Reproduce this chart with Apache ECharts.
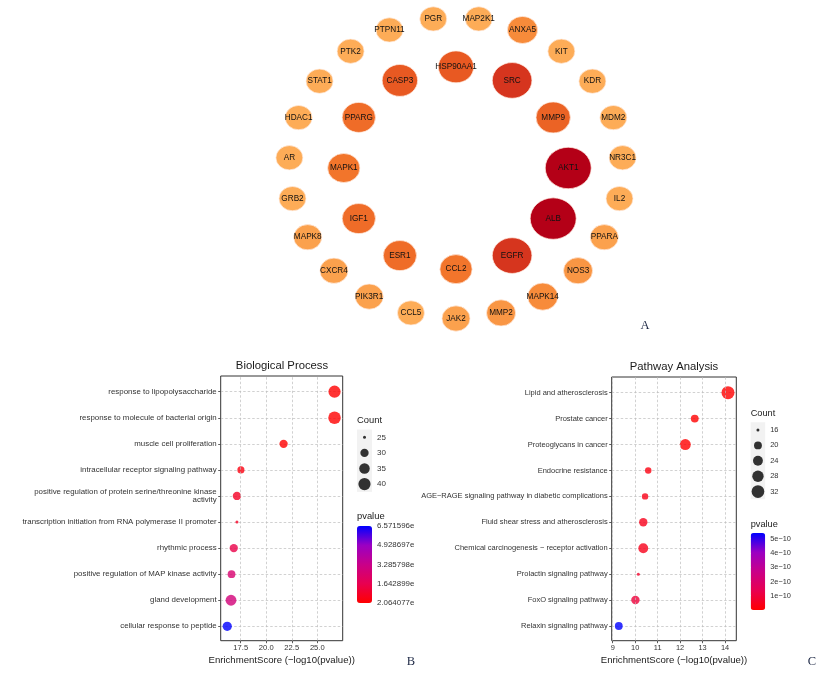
<!DOCTYPE html>
<html><head><meta charset="utf-8">
<script src="https://cdn.jsdelivr.net/npm/echarts@6/dist/echarts.min.js"></script>
<style>html,body{margin:0;padding:0;background:#fff}#c{width:827px;height:675px}</style>
</head><body><div id="c"></div>
<script>
// ---------- Panel A: PPI network ----------
const outerNodes = ['PGR','PTPN11','PTK2','STAT1','HDAC1','AR','GRB2','MAPK8','CXCR4','PIK3R1','CCL5','JAK2','MMP2','MAPK14','NOS3','PPARA','IL2','NR3C1','MDM2','KDR','KIT','ANXA5','MAP2K1'];
const outerDegree = [8,8,8,8,8,8,8,9,9,9,8,9,10,11,10,9,8,8,8,8,8,11,8];
const innerNodes = ['HSP90AA1','CASP3','PPARG','MAPK1','IGF1','ESR1','CCL2','EGFR','ALB','AKT1','MMP9','SRC'];
const innerDegree = [16,16,14,13,14,14,13,20,26,26,15,20];

// ---------- Panel B: Biological Process ----------
const bpTerms = ['response to lipopolysaccharide','response to molecule of bacterial origin','muscle cell proliferation','intracellular receptor signaling pathway','positive regulation of protein serine/threonine kinase activity','transcription initiation from RNA polymerase II promoter','rhythmic process','positive regulation of MAP kinase activity','gland development','cellular response to peptide'];
const bpScore = [26.69,26.69,21.70,17.52,17.13,17.13,16.82,16.60,16.55,16.18];
const bpCount = [40,41,30,28,30,25,30,29,36,32];
const bpPvalue = [2.064077e-27,2.064077e-27,2.0e-22,3.0e-18,7.4e-18,7.4e-18,1.5e-17,2.5e-17,2.8e-17,6.571596e-17];
const bpCountBreaks = [25,30,35,40];
const bpPBreaks = [2.064077e-27,1.642899e-17,3.285798e-17,4.928697e-17,6.571596e-17];
const bpPLabels = ['2.064077e','1.642899e','3.285798e','4.928697e','6.571596e'];
const bpXTicks = [17.5,20.0,22.5,25.0];

// ---------- Panel C: Pathway Analysis ----------
const kgTerms = ['Lipid and atherosclerosis','Prostate cancer','Proteoglycans in cancer','Endocrine resistance','AGE\u2212RAGE signaling pathway in diabetic complications','Fluid shear stress and atherosclerosis','Chemical carcinogenesis \u2212 receptor activation','Prolactin signaling pathway','FoxO signaling pathway','Relaxin signaling pathway'];
const kgScore = [14.13,12.65,12.23,10.58,10.44,10.36,10.36,10.14,10.01,9.27];
const kgCount = [33,20,27,18,18,21,24,16,21,20];
const kgPvalue = [7.4e-15,2.2e-13,5.9e-13,2.6e-11,3.6e-11,4.4e-11,4.4e-11,7.2e-11,9.8e-11,5.4e-10];
const kgCountBreaks = [16,20,24,28,32];
const kgPBreaks = [1e-10,2e-10,3e-10,4e-10,5e-10];
const kgPLabels = ['1e\u221210','2e\u221210','3e\u221210','4e\u221210','5e\u221210'];
const kgXTicks = [9,10,11,12,13,14];

// ---------- helpers ----------
const FONT = 'Liberation Sans, Arial, Helvetica, sans-serif';
const TXT = '#333333';
const GRIDC = '#bdbdbd';
const PCOLORS = ['#FF0000','#E80050','#C90089','#9A00C3','#0000FF'];

function wrapLabel(s, w) {
  const words = s.split(' '); const lines = []; let cur = '';
  for (const wd of words) {
    if (!cur) cur = wd;
    else if ((cur + ' ' + wd).length <= w) cur += ' ' + wd;
    else { lines.push(cur); cur = wd; }
  }
  if (cur) lines.push(cur);
  return lines.join('\n');
}
function sizeScale(counts, dmin, dmax) {
  const lo = Math.min(...counts), hi = Math.max(...counts);
  return c => dmin + (dmax - dmin) * Math.sqrt(Math.max(0, (c - lo) / (hi - lo)));
}
const sizeBP = sizeScale(bpCount, 3, 12.5);
const sizeKG = sizeScale(kgCount, 3, 13);
const nodeW = d => 27 + (d - 8) * 1.056;

function ring(names, degs, offset, r) {
  const n = names.length;
  return names.map((nm, i) => {
    const a = (90 + (i + offset) * 360 / n) * Math.PI / 180;
    return { name: nm, value: [r * Math.cos(a), r * Math.sin(a), degs[i]] };
  });
}
const netData = ring(outerNodes, outerDegree, 0.5, 1).concat(ring(innerNodes, innerDegree, 0, 0.672));

// ---------- layout boxes (pixels) ----------
const NET = {left: 289, top: 17.5, width: 334, height: 301};
const BPBOX = {left: 220.7, top: 376, width: 122, height: 264.7};
const BPIN = {left: 220.7, top: 391.7, width: 122, height: 234.6};
const BPX = [15.54, 27.49];
const KGBOX = {left: 611.7, top: 377, width: 124.6, height: 263.7};
const KGIN = {left: 611.7, top: 392.7, width: 124.6, height: 233.3};
const KGX = [8.955, 14.5];
const BPCNT = {left: 357, top: 429.5, width: 15, height: 62.4};
const BPPV = {left: 357, top: 526, width: 15, height: 77};
const KGCNT = {left: 750.7, top: 422.3, width: 14.5, height: 77};
const KGPV = {left: 750.7, top: 533, width: 14.5, height: 77};

const hiddenVal = (g, mn, mx) => ({type: 'value', gridIndex: g, min: mn, max: mx, show: false});
const boxX = (g, rng, ticks, fmt, fs) => ({
  type: 'value', gridIndex: g, min: rng[0], max: rng[1],
  axisLine: {show: false},
  axisTick: {show: true, customValues: ticks, length: 2.5, lineStyle: {color: '#333', width: 0.8}},
  axisLabel: {show: true, customValues: ticks, formatter: fmt, fontSize: fs, color: TXT, fontFamily: FONT, margin: 3.5},
  splitLine: {show: false},
  name: 'EnrichmentScore (\u2212log10(pvalue))', nameLocation: 'middle', nameGap: 14.5,
  nameTextStyle: {fontSize: 9.6, color: '#1a1a1a', fontFamily: FONT}
});
const catY = (g, terms, fs) => ({
  type: 'category', gridIndex: g, data: terms, inverse: true, boundaryGap: false,
  axisLine: {show: false},
  axisTick: {show: true, length: 2.5, lineStyle: {color: '#333', width: 0.8}},
  axisLabel: {fontSize: fs, color: TXT, fontFamily: FONT, margin: 4, lineHeight: 8.6, formatter: v => wrapLabel(v, 56)},
  splitLine: {show: true, lineStyle: {color: GRIDC, width: 0.7, type: [2.5, 2]}}
});
const legCatY = (g, breaks, fs) => ({
  type: 'category', gridIndex: g, data: breaks.map(String), inverse: true, boundaryGap: true, position: 'right',
  axisLine: {show: false}, axisTick: {show: false},
  axisLabel: {fontSize: fs, color: TXT, fontFamily: FONT, margin: 5}
});
const pvY = (g, mn, mx, breaks, labels, fs) => ({
  type: 'value', gridIndex: g, min: mn, max: mx, position: 'right', z: 10,
  axisLine: {show: false},
  axisTick: {show: true, inside: true, length: 3, customValues: breaks, lineStyle: {color: '#fff', width: 0.8}},
  axisLabel: {show: true, customValues: breaks, fontSize: fs, color: TXT, fontFamily: FONT, margin: 5,
    formatter: v => { let best = 0; breaks.forEach((b, i) => { if (Math.abs(b - v) < Math.abs(breaks[best] - v)) best = i; }); return labels[best]; }},
  splitLine: {show: false}
});
const vlines = ticks => ({
  silent: true, symbol: 'none', label: {show: false}, animation: false,
  lineStyle: {color: GRIDC, width: 0.7, type: [2.5, 2]},
  data: ticks.map(t => ({xAxis: t}))
});

const bpPmin = Math.min(...bpPvalue), bpPmax = Math.max(...bpPvalue);
const kgPmin = Math.min(...kgPvalue), kgPmax = Math.max(...kgPvalue);

const option = {
  animation: false,
  backgroundColor: '#ffffff',
  grid: [
    Object.assign({}, NET),
    Object.assign({show: true, borderColor: '#333', borderWidth: 1, backgroundColor: 'transparent'}, BPBOX),
    Object.assign({}, BPIN),
    Object.assign({show: true, borderWidth: 0, backgroundColor: '#F2F2F2'}, BPCNT),
    Object.assign({}, BPPV),
    Object.assign({show: true, borderColor: '#333', borderWidth: 1, backgroundColor: 'transparent'}, KGBOX),
    Object.assign({}, KGIN),
    Object.assign({show: true, borderWidth: 0, backgroundColor: '#F2F2F2'}, KGCNT),
    Object.assign({}, KGPV)
  ],
  xAxis: [
    hiddenVal(0, -1, 1),
    boxX(1, BPX, bpXTicks, v => v.toFixed(1), 7.6),
    hiddenVal(2, BPX[0], BPX[1]),
    hiddenVal(3, 0, 1),
    hiddenVal(4, 0, 1),
    boxX(5, KGX, kgXTicks, v => String(Math.round(v)), 7.4),
    hiddenVal(6, KGX[0], KGX[1]),
    hiddenVal(7, 0, 1),
    hiddenVal(8, 0, 1)
  ],
  yAxis: [
    hiddenVal(0, -1, 1),
    hiddenVal(1, 0, 1),
    catY(2, bpTerms, 7.9),
    legCatY(3, bpCountBreaks, 8),
    pvY(4, bpPmin, bpPmax, bpPBreaks, bpPLabels, 7.9),
    hiddenVal(5, 0, 1),
    catY(6, kgTerms, 7.5),
    legCatY(7, kgCountBreaks, 7.5),
    pvY(8, kgPmin, kgPmax, kgPBreaks, kgPLabels, 7.4)
  ],
  visualMap: [
    {type: 'continuous', seriesIndex: 0, dimension: 2, min: 8, max: 26, show: false,
     inRange: {color: ['#FDAC57', '#F47A2C', '#E4501F', '#CF281D', '#B40017']}},
    {type: 'continuous', seriesIndex: 2, dimension: 3, min: bpPmin, max: bpPmax, show: true,
     left: BPPV.left, top: BPPV.top, itemWidth: BPPV.width, itemHeight: BPPV.height, padding: 0,
     calculable: false, hoverLink: false, inRange: {color: PCOLORS}},
    {type: 'continuous', seriesIndex: 5, dimension: 3, min: kgPmin, max: kgPmax, show: true,
     left: KGPV.left, top: KGPV.top, itemWidth: KGPV.width, itemHeight: KGPV.height, padding: 0,
     calculable: false, hoverLink: false, inRange: {color: PCOLORS}}
  ],
  series: [
    {type: 'scatter', xAxisIndex: 0, yAxisIndex: 0, data: netData, clip: false,
     symbolSize: (v) => { const w = nodeW(v[2]); return [w, w * 0.9]; },
     itemStyle: {borderColor: 'rgba(255,235,225,0.9)', borderWidth: 0.8, opacity: 1},
     label: {show: true, position: 'inside', formatter: p => p.name, fontSize: 8.2, color: '#111', fontFamily: FONT}},
    {type: 'scatter', xAxisIndex: 1, yAxisIndex: 1, data: [], markLine: vlines(bpXTicks)},
    {type: 'scatter', xAxisIndex: 2, yAxisIndex: 2, clip: false, z: 3,
     data: bpTerms.map((t, i) => [bpScore[i], t, bpCount[i], bpPvalue[i]]),
     symbolSize: v => sizeBP(v[2])},
    {type: 'scatter', xAxisIndex: 3, yAxisIndex: 3, clip: false,
     data: bpCountBreaks.map(c => [0.5, String(c), c]),
     symbolSize: v => sizeBP(v[2]), itemStyle: {color: '#000'}},
    {type: 'scatter', xAxisIndex: 5, yAxisIndex: 5, data: [], markLine: vlines(kgXTicks)},
    {type: 'scatter', xAxisIndex: 6, yAxisIndex: 6, clip: false, z: 3,
     data: kgTerms.map((t, i) => [kgScore[i], t, kgCount[i], kgPvalue[i]]),
     symbolSize: v => sizeKG(v[2])},
    {type: 'scatter', xAxisIndex: 7, yAxisIndex: 7, clip: false,
     data: kgCountBreaks.map(c => [0.5, String(c), c]),
     symbolSize: v => sizeKG(v[2]), itemStyle: {color: '#000'}}
  ],
  graphic: [
    {type: 'text', x: 282, y: 366, style: {text: 'Biological Process', fontSize: 11.3, fontFamily: FONT, fill: '#1a1a1a', align: 'center', verticalAlign: 'middle'}},
    {type: 'text', x: 674, y: 367, style: {text: 'Pathway Analysis', fontSize: 11.3, fontFamily: FONT, fill: '#1a1a1a', align: 'center', verticalAlign: 'middle'}},
    {type: 'text', x: 357, y: 420, style: {text: 'Count', fontSize: 9.4, fontFamily: FONT, fill: '#1a1a1a', align: 'left', verticalAlign: 'middle'}},
    {type: 'text', x: 357, y: 516.7, style: {text: 'pvalue', fontSize: 9.4, fontFamily: FONT, fill: '#1a1a1a', align: 'left', verticalAlign: 'middle'}},
    {type: 'text', x: 750.7, y: 413.3, style: {text: 'Count', fontSize: 9.2, fontFamily: FONT, fill: '#1a1a1a', align: 'left', verticalAlign: 'middle'}},
    {type: 'text', x: 750.7, y: 524.3, style: {text: 'pvalue', fontSize: 9.2, fontFamily: FONT, fill: '#1a1a1a', align: 'left', verticalAlign: 'middle'}},
    {type: 'text', x: 645, y: 325.5, style: {text: 'A', fontSize: 12.5, fontFamily: 'Liberation Serif, Times New Roman, serif', fill: '#1c2744', align: 'center', verticalAlign: 'middle'}},
    {type: 'text', x: 411, y: 662, style: {text: 'B', fontSize: 12.5, fontFamily: 'Liberation Serif, Times New Roman, serif', fill: '#1c2744', align: 'center', verticalAlign: 'middle'}},
    {type: 'text', x: 812, y: 662, style: {text: 'C', fontSize: 12.5, fontFamily: 'Liberation Serif, Times New Roman, serif', fill: '#1c2744', align: 'center', verticalAlign: 'middle'}}
  ]
};
const chart = echarts.init(document.getElementById('c'));
chart.setOption(option);
</script></body></html>
